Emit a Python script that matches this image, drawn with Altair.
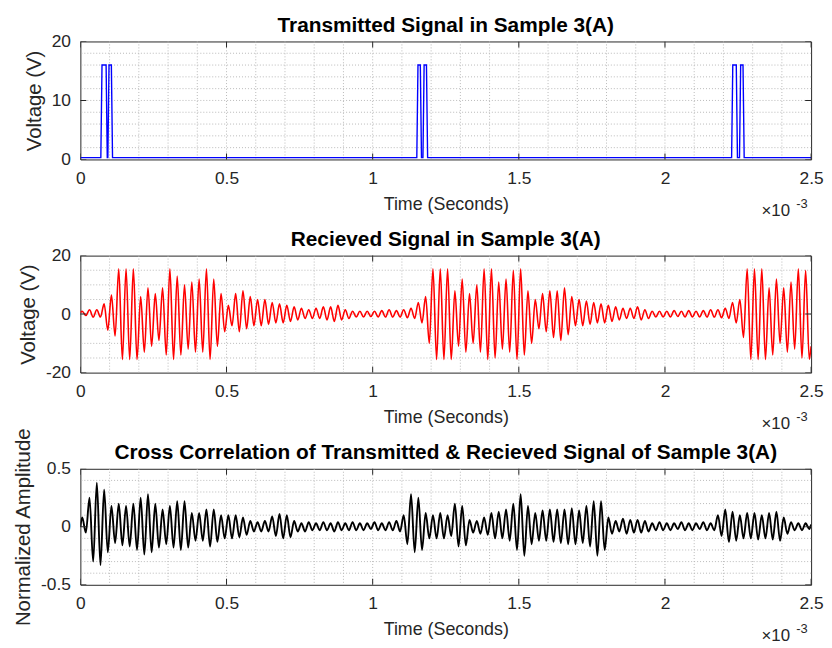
import altair as alt
import pandas as pd

FONT = "Liberation Sans"
INK = "#262626"
PERIOD = 0.025  # ms, one oscillation cycle of the received / correlated signal

# ---------------- data ----------------
# transmitted pulses (time in ms, voltage in V)
tx_time = [0.0, 0.070, 0.074, 0.088, 0.092, 0.094, 0.098, 0.106, 0.110,
           1.151, 1.155, 1.163, 1.167, 1.172, 1.176, 1.184, 1.188,
           2.228, 2.232, 2.244, 2.248, 2.255, 2.259, 2.267, 2.271, 2.5]
tx_volt = [0.3, 0.3, 16, 16, 0.3, 0.3, 16, 16, 0.3,
           0.3, 16, 16, 0.3, 0.3, 16, 16, 0.3,
           0.3, 16, 16, 0.3, 0.3, 16, 16, 0.3, 0.3]

# received signal: positive peak / negative trough of each cycle (V)
rx_pos = [1.0, 1.5, 1.5, 3.5, 6.5, 15.5, 15.5, 15.5, 6, 9,
          7, 9, 15.5, 13, 10, 11, 12, 15.5, 12, 7,
          3, 7, 8, 6, 5, 5, 4, 3.5, 3, 2.5,
          2, 1.5, 2, 2.5, 2.5, 3, 1.5, 1, 1, 1,
          1, 1.2, 1.5, 1.2, 1.5, 2, 4, 6, 15.5, 15.5,
          15.5, 8, 12, 7, 10, 15.5, 15.5, 11, 12, 15,
          15.5, 8, 5, 7, 8, 8, 9, 6, 5, 4.5,
          4, 3.5, 3, 2.5, 2, 2, 2.5, 1.5, 1, 1,
          1, 1.2, 1, 1.2, 1, 1.2, 1.5, 1.5, 2, 4,
          5, 15.5, 15.5, 15.5, 9, 12, 9, 11, 15.5, 15]
rx_neg = [-0.5, -1, -1, -5.5, -7.5, -15.5, -15.5, -15.5, -13, -11,
          -9, -14, -15.5, -14, -12, -13, -13, -15.5, -11, -6,
          -4, -6, -5, -4, -4, -3.5, -3, -3, -2.5, -2,
          -1.5, -1.5, -1.5, -2, -2.5, -2, -1.5, -1, -1, -0.8,
          -1, -1, -1, -1, -1.2, -1.5, -3, -10, -15.5, -15.5,
          -15.5, -11, -13, -10, -13, -15.5, -15, -12, -13, -15.5,
          -14, -10, -5, -6, -8, -9, -7, -4, -4, -3.5,
          -3, -3, -2.5, -2, -1.5, -1.5, -2, -1.5, -1, -1,
          -1, -0.8, -1, -1, -1, -1, -1, -1.2, -1.5, -3,
          -8, -15.5, -15.5, -15.5, -14, -10, -13, -12, -15, -15.5]

# cross correlation: positive peak / negative trough of each cycle
cc_pos = [0.08, 0.25, 0.38, 0.32, 0.18, 0.2, 0.18, 0.2, 0.25, 0.28,
          0.2, 0.15, 0.18, 0.22, 0.22, 0.12, 0.12, 0.15, 0.15, 0.1,
          0.1, 0.1, 0.08, 0.05, 0.04, 0.05, 0.09, 0.11, 0.1, 0.05,
          0.03, 0.04, 0.03, 0.04, 0.03, 0.04, 0.03, 0.04, 0.03, 0.03,
          0.04, 0.03, 0.04, 0.05, 0.1, 0.28, 0.25, 0.12, 0.1, 0.12,
          0.1, 0.2, 0.18, 0.06, 0.05, 0.08, 0.12, 0.13, 0.15, 0.2,
          0.28, 0.18, 0.12, 0.14, 0.15, 0.15, 0.15, 0.16, 0.14, 0.18,
          0.22, 0.22, 0.08, 0.05, 0.07, 0.06, 0.06, 0.05, 0.03, 0.04,
          0.03, 0.03, 0.04, 0.03, 0.03, 0.04, 0.03, 0.1, 0.15, 0.13,
          0.1, 0.12, 0.12, 0.1, 0.12, 0.13, 0.08, 0.04, 0.03, 0.03]
cc_neg = [-0.05, -0.3, -0.33, -0.22, -0.14, -0.16, -0.17, -0.2, -0.24, -0.22,
          -0.18, -0.15, -0.18, -0.2, -0.18, -0.12, -0.12, -0.17, -0.13, -0.1,
          -0.1, -0.09, -0.07, -0.04, -0.04, -0.04, -0.08, -0.1, -0.09, -0.04,
          -0.04, -0.03, -0.03, -0.03, -0.04, -0.03, -0.03, -0.03, -0.03, -0.02,
          -0.03, -0.03, -0.03, -0.04, -0.15, -0.22, -0.2, -0.1, -0.1, -0.1,
          -0.08, -0.17, -0.16, -0.05, -0.06, -0.07, -0.1, -0.1, -0.12, -0.2,
          -0.25, -0.15, -0.12, -0.12, -0.13, -0.14, -0.15, -0.15, -0.14, -0.17,
          -0.25, -0.2, -0.06, -0.04, -0.06, -0.05, -0.05, -0.04, -0.03, -0.03,
          -0.03, -0.02, -0.03, -0.03, -0.02, -0.03, -0.03, -0.08, -0.13, -0.12,
          -0.1, -0.1, -0.11, -0.1, -0.11, -0.12, -0.06, -0.03, -0.03, -0.02]

# axes
x_ticks = [0, 0.5, 1, 1.5, 2, 2.5]
x_minor = [0.1, 0.2, 0.3, 0.4, 0.5, 0.6, 0.7, 0.8, 0.9, 1.0, 1.1, 1.2,
           1.3, 1.4, 1.5, 1.6, 1.7, 1.8, 1.9, 2.0, 2.1, 2.2, 2.3, 2.4]
titles = ["Transmitted Signal in Sample 3(A)",
          "Recieved Signal in Sample 3(A)",
          "Cross Correlation of Transmitted & Recieved Signal of Sample 3(A)"]
y_titles = ["Voltage (V)", "Voltage (V)", "Normalized Amplitude"]
x_title = "Time (Seconds)"
exp_base = "\u00d710"
exp_pow = "-3"

W = 737


def cycles_to_frame(pos, neg, start, end):
    t, v = [0.0], [start]
    for i, (p, n) in enumerate(zip(pos, neg)):
        t += [PERIOD * i + PERIOD / 4, PERIOD * i + 3 * PERIOD / 4]
        v += [p, n]
    t.append(2.5)
    v.append(end)
    return pd.DataFrame({"t": t, "v": v})


def panel(df, color, sw, interp, h, y_dom, y_ticks, y_minor, title, ytitle):
    xs = alt.Scale(domain=[0, 2.5], nice=False, zero=False)
    ys = alt.Scale(domain=y_dom, nice=False, zero=False)
    x_axis = alt.Axis(values=x_ticks, title=x_title, labelExpr="'' + datum.value")
    y_axis = alt.Axis(values=y_ticks, title=ytitle, labelExpr="'' + datum.value")

    def X(f):
        return alt.X(f, type="quantitative", scale=xs, axis=x_axis)

    def Y(f):
        return alt.Y(f, type="quantitative", scale=ys, axis=y_axis)

    grid_style = dict(color="#b9b9b9", strokeDash=[1, 2], strokeWidth=1)
    vgrid = alt.Chart(pd.DataFrame({"x": x_minor})).mark_rule(**grid_style).encode(
        x=X("x"))
    hgrid = alt.Chart(pd.DataFrame({"y": y_minor})).mark_rule(**grid_style).encode(
        y=Y("y"))
    line = alt.Chart(df).mark_line(color=color, strokeWidth=sw, clip=True,
                                   interpolate=interp).encode(x=X("t"), y=Y("v"))
    xt = pd.DataFrame({"x": x_ticks * 2,
                       "y": [y_dom[0]] * len(x_ticks) + [y_dom[1]] * len(x_ticks)})
    xtick = alt.Chart(xt).mark_tick(orient="vertical", size=12, thickness=1,
                                    color=INK, clip=True, opacity=1).encode(
        x=X("x"), y=Y("y"))
    yt = pd.DataFrame({"x": [0] * len(y_ticks) + [2.5] * len(y_ticks),
                       "y": y_ticks * 2})
    ytick = alt.Chart(yt).mark_tick(orient="horizontal", size=12, thickness=1,
                                    color=INK, clip=True, opacity=1).encode(
        x=X("x"), y=Y("y"))
    ttl = alt.Chart(pd.DataFrame({"s": [title]})).mark_text(
        align="center", baseline="alphabetic", font=FONT, fontSize=21,
        fontWeight="bold", color="#000000").encode(
        x=alt.value(W / 2), y=alt.value(-10), text="s:N")
    base = alt.Chart(pd.DataFrame({"s": [exp_base]})).mark_text(
        align="left", baseline="middle", font=FONT, fontSize=17, color=INK).encode(
        x=alt.value(687), y=alt.value(h + 52), text="s:N")
    powr = alt.Chart(pd.DataFrame({"s": [exp_pow]})).mark_text(
        align="left", baseline="middle", font=FONT, fontSize=13, color=INK).encode(
        x=alt.value(722), y=alt.value(h + 45), text="s:N")
    return alt.layer(vgrid, hgrid, line, xtick, ytick, ttl, base, powr).properties(
        width=W, height=h)


tx_df = pd.DataFrame({"t": tx_time, "v": tx_volt})
rx_df = cycles_to_frame(rx_pos, rx_neg, 0.5, -11)
cc_df = cycles_to_frame(cc_pos, cc_neg, 0.0, 0.02)

p1 = panel(tx_df, "#0000ff", 1.4, "linear", 119, [0, 20], [0, 10, 20],
           [2, 4, 6, 8, 10, 12, 14, 16, 18], titles[0], y_titles[0])
p2 = panel(rx_df, "#ff0000", 1.6, "monotone", 118, [-20, 20], [-20, 0, 20],
           [-15, -10, -5, 0, 5, 10, 15], titles[1], y_titles[1])
p3 = panel(cc_df, "#000000", 1.9, "monotone", 117, [-0.5, 0.5], [-0.5, 0, 0.5],
           [-0.4, -0.3, -0.2, -0.1, 0, 0.1, 0.2, 0.3, 0.4], titles[2], y_titles[2])

chart = alt.vconcat(p1, p2, p3, spacing=97, bounds="flush").properties(
    padding={"left": 5, "top": 3, "right": 0, "bottom": 0}
).configure_view(stroke=INK, strokeWidth=1).configure_axis(
    domain=False, ticks=False, grid=False,
    labelFont=FONT, labelFontSize=17.5, labelColor=INK, labelPadding=10,
    labelFlush=False, labelOverlap=False,
    titleFont=FONT, titleFontWeight="normal", titleColor=INK,
    titlePadding=9
).configure_axisX(titleFontSize=18).configure_axisY(titleFontSize=20.5,
                                                     titlePadding=7)

chart.save("out.html", embed_options={"renderer": "svg", "actions": False})
